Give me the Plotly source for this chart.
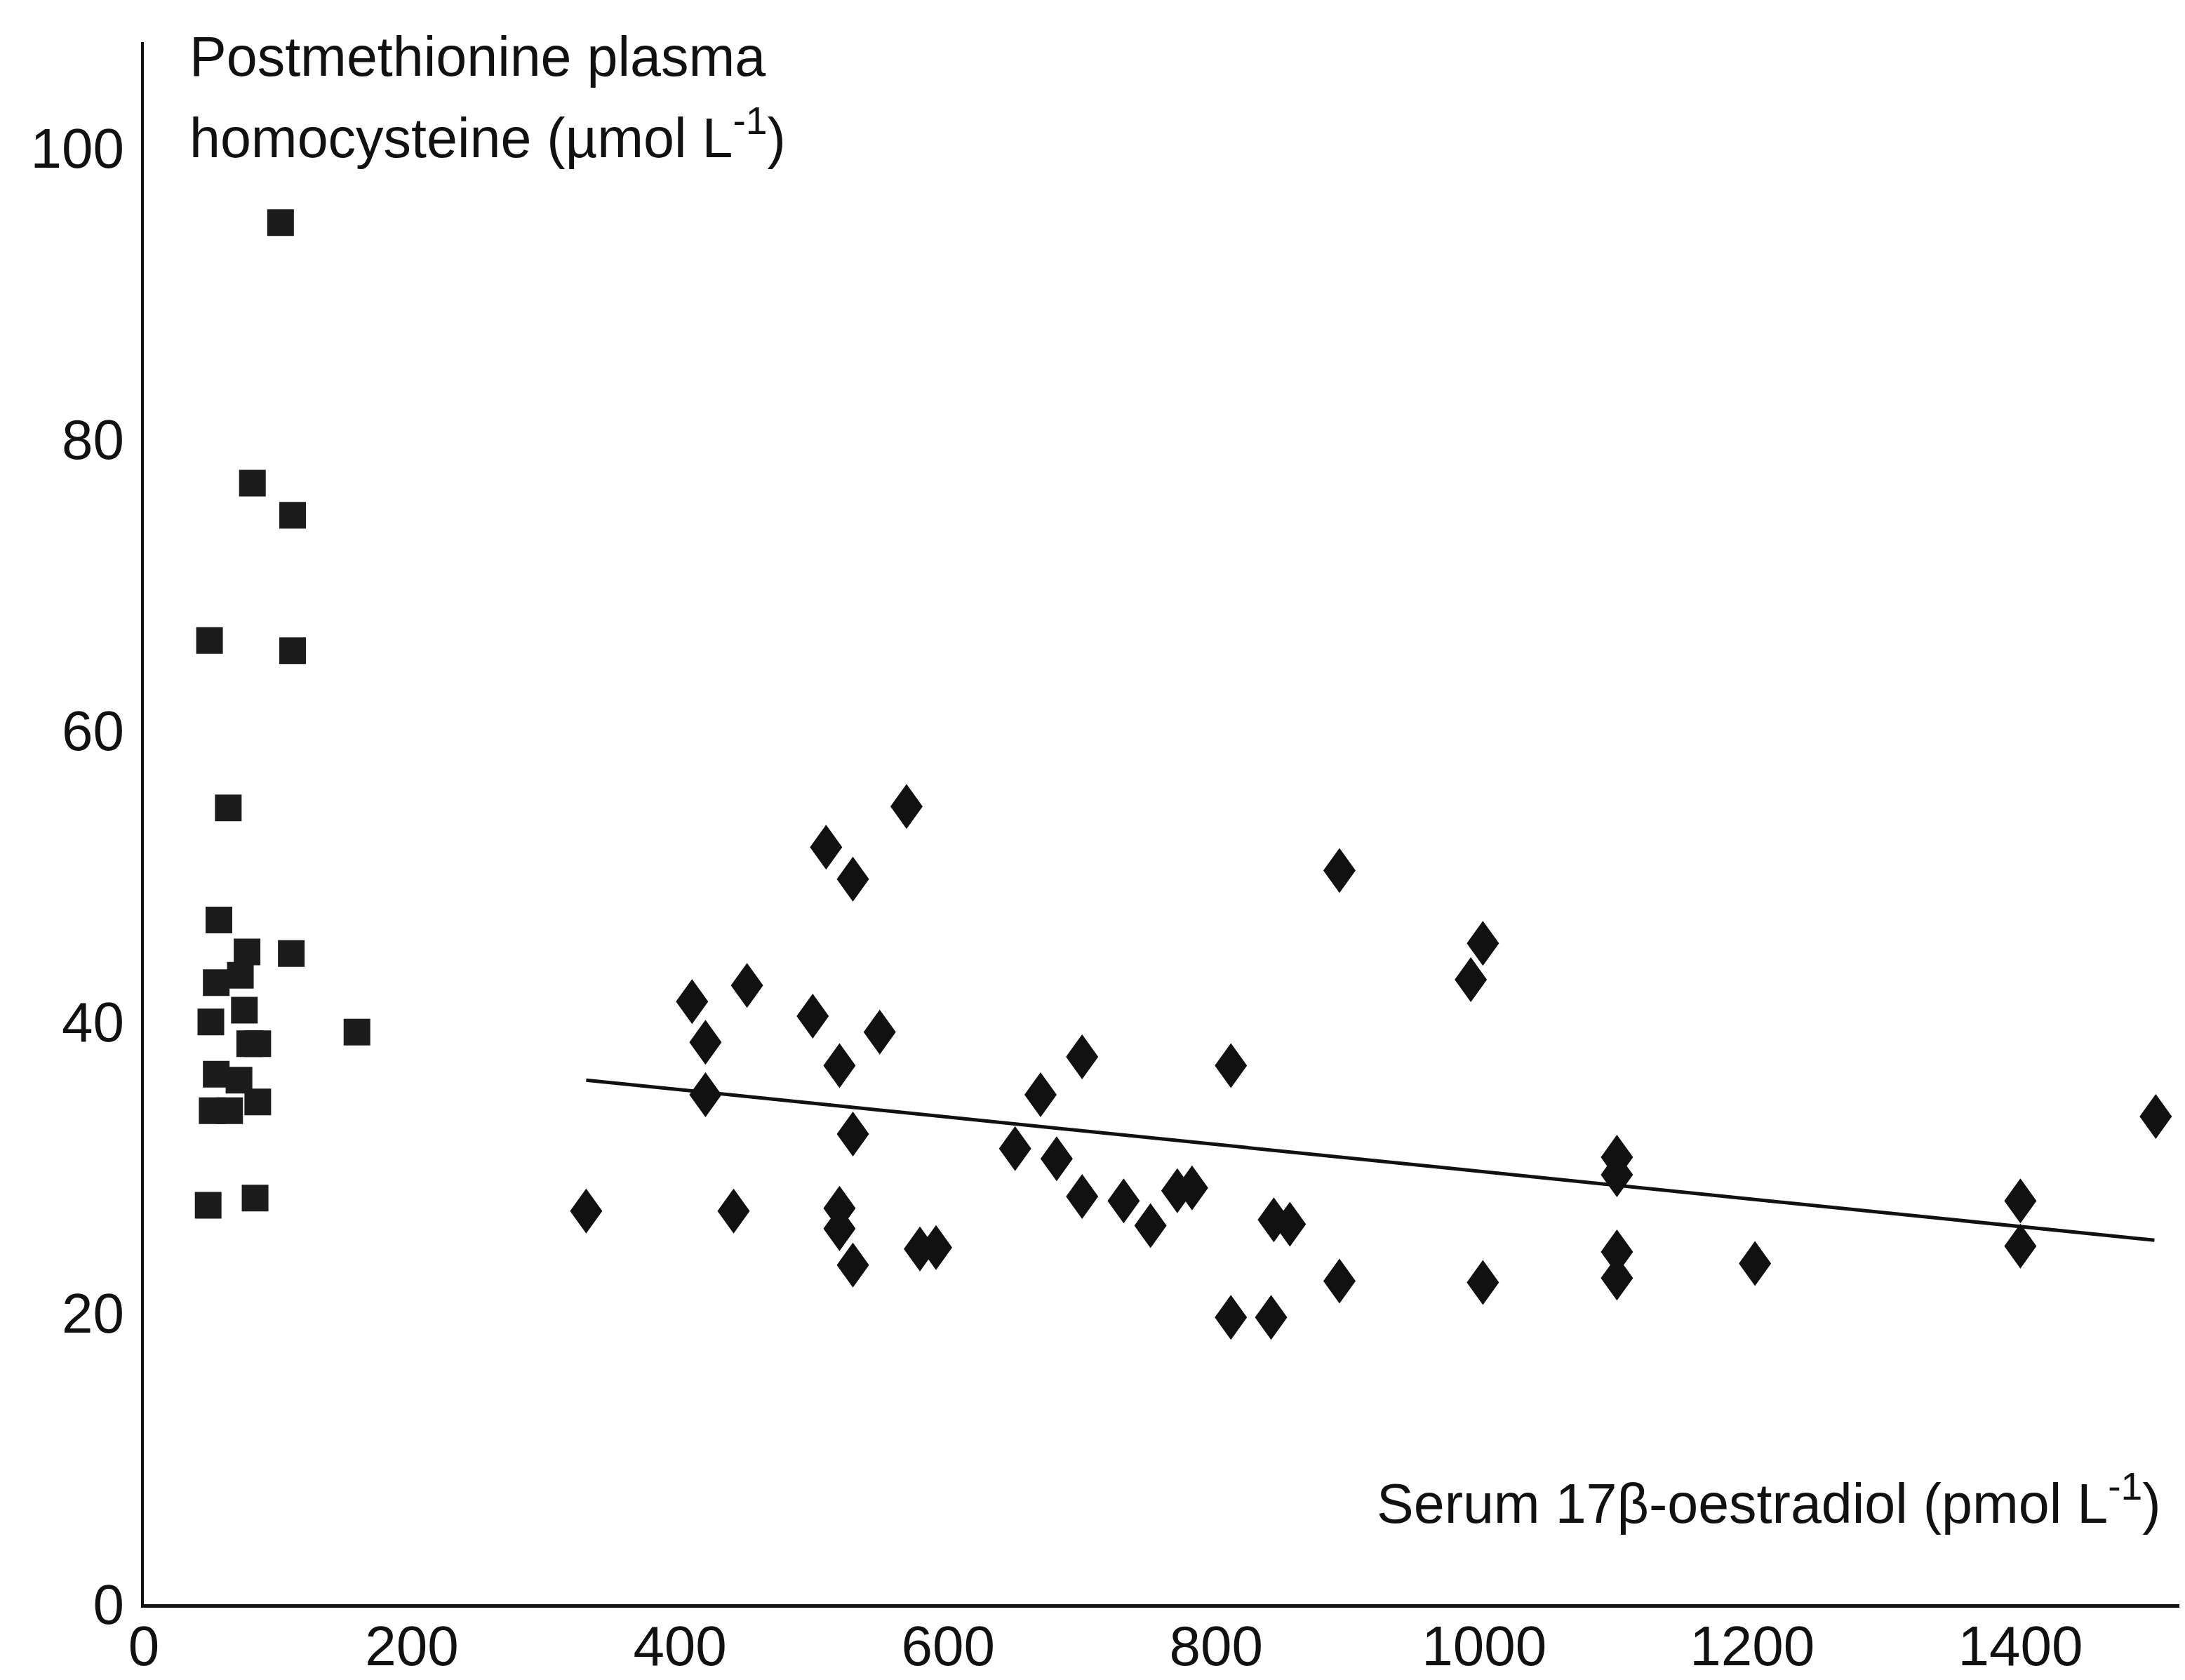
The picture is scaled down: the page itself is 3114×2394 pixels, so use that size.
import plotly.graph_objects as go

# Serum 17beta-oestradiol (pmol/L) vs postmethionine plasma homocysteine (umol/L)
square_x = [102, 81, 111, 49, 111, 63, 56, 77, 110, 72, 54, 75, 50, 159, 79, 85,
            54, 71, 51, 64, 85, 48, 83]
square_y = [94.9, 77.0, 74.8, 66.2, 65.5, 54.7, 47.0, 44.8, 44.7, 43.2, 42.7, 40.8,
            40.0, 39.3, 38.5, 38.5, 36.4, 36.0, 33.9, 33.9, 34.5, 27.4, 27.9]

diamond_x = [330, 409, 419, 419, 440, 450, 499, 509, 519, 519, 519, 529, 529, 529,
             549, 569, 579, 591, 650, 669, 681, 700, 700, 731, 751, 771, 782, 811,
             811, 841, 843, 855, 892, 892, 990, 999, 999, 1099, 1099, 1099, 1099,
             1202, 1400, 1400, 1501]
diamond_y = [27.0, 41.4, 38.6, 35.0, 27.0, 42.5, 40.4, 52.0, 37.0, 27.2, 25.8, 49.8,
             32.3, 23.3, 39.3, 54.8, 24.4, 24.5, 31.3, 35.0, 30.6, 37.6, 28.0, 27.7,
             26.0, 28.4, 28.6, 37.0, 19.7, 19.7, 26.4, 26.1, 50.4, 22.2, 42.9, 45.4,
             22.1, 30.7, 29.5, 24.2, 22.4, 23.4, 27.7, 24.6, 33.5]

trend_x = [330, 1500]
trend_y = [36.0, 25.0]

x_ticks = [0, 200, 400, 600, 800, 1000, 1200, 1400]
y_ticks = [0, 20, 40, 60, 80, 100]

ink = "#111111"
font_family = "Liberation Sans, Arial, Helvetica, sans-serif"
tick_fs = 80
title_fs = 79

# diamond glyph (pixel offsets around each data point): 46 px wide, 64 px tall
DIAMOND_PATH = "M0,-32 L23,0 L0,32 L-23,0 Z"

fig = go.Figure()

fig.add_trace(go.Scatter(
    x=trend_x, y=trend_y, mode="lines",
    line=dict(color=ink, width=5), showlegend=False, hoverinfo="skip"))

fig.add_trace(go.Scatter(
    x=square_x, y=square_y, mode="markers",
    marker=dict(symbol="square", size=38, color="#1c1c1c", line=dict(width=0)),
    showlegend=False, name="low oestradiol"))

fig.add_trace(go.Scatter(
    x=diamond_x, y=diamond_y, mode="markers",
    marker=dict(symbol="diamond", size=34, color=ink, line=dict(width=0)),
    showlegend=False, name="high oestradiol"))

shapes = []
for dxv, dyv in zip(diamond_x, diamond_y):
    shapes.append(dict(
        type="path", xref="x", yref="y",
        xsizemode="pixel", ysizemode="pixel", xanchor=dxv, yanchor=dyv,
        path=DIAMOND_PATH, fillcolor=ink, line=dict(width=0), layer="above"))

fig.update_layout(
    width=3114, height=2394,
    margin=dict(l=197, r=0, t=52, b=116),
    paper_bgcolor="white", plot_bgcolor="white",
    font=dict(family=font_family, size=tick_fs, color=ink),
    shapes=shapes,
    xaxis=dict(
        range=[0, 1527], tickvals=x_ticks, ticktext=[str(v) for v in x_ticks],
        showgrid=False, zeroline=False, showline=True, linecolor=ink, linewidth=5,
        ticks="", ticklen=0, ticklabelstandoff=-14, tickfont=dict(size=tick_fs, color=ink),
    ),
    yaxis=dict(
        range=[0, 107.3], tickvals=y_ticks, ticktext=[str(v) for v in y_ticks],
        showgrid=False, zeroline=False, showline=True, linecolor=ink, linewidth=4,
        ticks="", ticklabelstandoff=8, tickfont=dict(size=tick_fs, color=ink),
    ),
    annotations=[
        dict(text="Postmethionine plasma",
             xref="paper", yref="paper", x=0.0257, y=(2278 - 83) / 2226,
             xanchor="left", yanchor="middle", xshift=-12, yshift=10,
             align="left", showarrow=False, font=dict(size=title_fs, color=ink)),
        dict(text="homocysteine (µmol L<sup>-1</sup>)",
             xref="paper", yref="paper", x=0.0257, y=(2278 - 193) / 2226,
             xanchor="left", yanchor="middle", xshift=-12, yshift=10,
             align="left", showarrow=False, font=dict(size=title_fs, color=ink)),
        dict(text="Serum 17β-oestradiol (pmol L<sup>-1</sup>)",
             xref="paper", yref="paper", x=0.9863, y=(2278 - 2139) / 2226,
             xanchor="right", yanchor="middle", yshift=10,
             align="right", showarrow=False, font=dict(size=title_fs, color=ink)),
    ],
)

fig.write_html("out.html")
